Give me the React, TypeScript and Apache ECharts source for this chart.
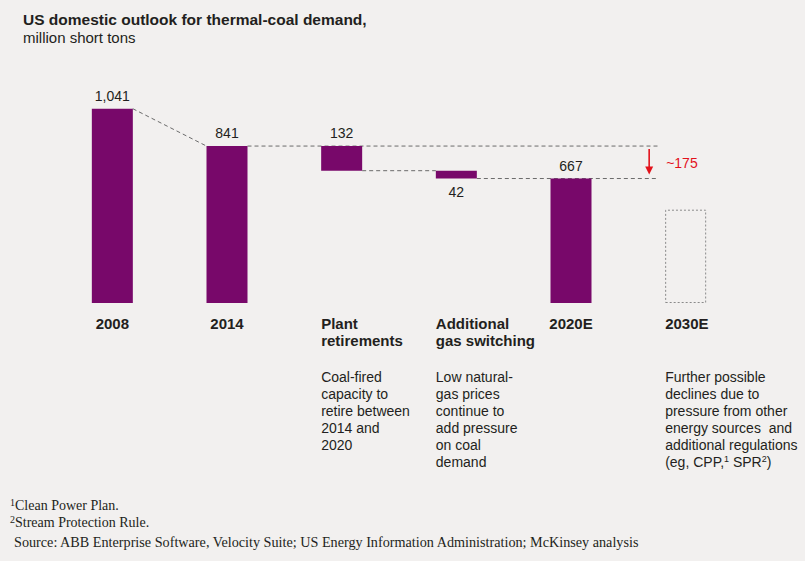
import React, { useEffect, useRef } from 'react';
import * as echarts from 'echarts';

// ---------- data ----------
const categories = ['2008', '2014', 'Plant retirements', 'Additional gas switching', '2020E', '2030E'];
const categoryLabelLines = [['2008'], ['2014'], ['Plant', 'retirements'], ['Additional', 'gas switching'], ['2020E'], ['2030E']];
const descriptions = [
  [],
  [],
  ['Coal-fired', 'capacity to', 'retire between', '2014 and', '2020'],
  ['Low natural-', 'gas prices', 'continue to', 'add pressure', 'on coal', 'demand'],
  [],
  ['Further possible', 'declines due to', 'pressure from other', 'energy sources  and', 'additional regulations', '(eg, CPP,¹ SPR²)'],
];
const barValues = [1041, 841, 132, 42, 667, null];
const barKinds = ['total', 'total', 'decrease', 'decrease', 'total', 'outlook'];
const outlook2030 = 500;
const decline2030Label = '~175';
const titleText = 'US domestic outlook for thermal-coal demand,';
const subtitleText = 'million short tons';
const footnotes = ['¹Clean Power Plan.', '²Stream Protection Rule.'];
const sourceText = 'Source: ABB Enterprise Software, Velocity Suite; US Energy Information Administration; McKinsey analysis';

// ---------- styles ----------
const PURPLE = '#78086a';
const RED = '#e3121b';
const TEXT = '#231f20';
const BG = '#f2f0ef';
const BAR_WIDTH = 41;
const SANS = 'Liberation Sans, Arial, Helvetica, sans-serif';
const SERIF = 'Liberation Serif, Times New Roman, serif';

const supify = (s: string, style: string) =>
  s
    .split(/([¹²])/)
    .filter((p) => p.length > 0)
    .map((p) => (p === '¹' ? '{sup|1}' : p === '²' ? '{sup|2}' : `{${style}|${p}}`))
    .join('');

export default function App() {
  const ref = useRef<HTMLDivElement>(null);

  useEffect(() => {
    if (!ref.current) return;
    const chart = echarts.init(ref.current, null, { renderer: 'svg' });

    // waterfall layout
    const base: any[] = [];
    const vals: any[] = [];
    const outlook: any[] = [];
    const levelsAfter: number[] = [];
    let level = 0;
    barValues.forEach((v, i) => {
      const kind = barKinds[i];
      let b = 0;
      if (kind === 'total') {
        vals.push({ value: v, label: { position: 'top' } });
        level = v as number;
        outlook.push('-');
      } else if (kind === 'decrease') {
        b = level - (v as number);
        vals.push({ value: v, label: { position: i === 2 ? 'top' : 'bottom' } });
        level = level - (v as number);
        outlook.push('-');
      } else {
        vals.push('-');
        outlook.push(outlook2030);
      }
      // category labels without a description are centred under the bar
      const centred = descriptions[i].length === 0 && categoryLabelLines[i].length === 1;
      base.push(centred ? { value: b, label: { align: 'center', offset: [0, 0] } } : b);
      levelsAfter.push(level);
    });

    // connectors: [fromIdx, value, toIdx, value, extendToEnd]
    const connectors = [
      [0, barValues[0], 1, barValues[1], 0],
      [1, levelsAfter[1], 5, levelsAfter[1], 1],
      [2, levelsAfter[2], 3, levelsAfter[2], 0],
      [3, levelsAfter[3], 5, levelsAfter[3], 1],
    ];

    const catLabel = (i: number) => {
      const lines = categoryLabelLines[i].map((l) => `{b|${l}}`);
      const desc = descriptions[i];
      if (desc.length > 0) {
        while (lines.length < 2) lines.push('{b| }');
        lines.push('{s| }');
        desc.forEach((d) => lines.push(supify(d, 'd')));
      }
      return lines.join('\n');
    };

    const option: any = {
      animation: false,
      backgroundColor: BG,
      title: {
        text: titleText,
        subtext: subtitleText,
        left: 18,
        top: 5,
        itemGap: 0,
        textStyle: { fontFamily: SANS, fontSize: 15.5, fontWeight: 'bold', color: TEXT, lineHeight: 18 },
        subtextStyle: { fontFamily: SANS, fontSize: 15, color: TEXT, lineHeight: 18 },
      },
      grid: { left: 55, right: 62, top: 60.4, bottom: 258, containLabel: false },
      xAxis: {
        type: 'category',
        data: categories,
        axisLine: { show: false },
        axisTick: { show: false },
        axisLabel: { show: false },
        splitLine: { show: false },
      },
      yAxis: {
        type: 'value',
        min: 0,
        max: 1300,
        show: false,
        splitLine: { show: false },
      },
      series: [
        {
          type: 'custom',
          name: 'connectors',
          silent: true,
          z: 1,
          data: connectors,
          encode: { x: [0, 2], y: [1, 3] },
          renderItem: (params: any, api: any) => {
            const p1 = api.coord([api.value(0), api.value(1)]);
            const p2 = api.coord([api.value(2), api.value(3)]);
            const half = BAR_WIDTH / 2;
            const x1 = p1[0] + half;
            const x2 = api.value(4) ? p2[0] - half - 7 : p2[0] - half;
            return {
              type: 'line',
              shape: { x1, y1: p1[1], x2, y2: p2[1] },
              style: { stroke: '#6b6b6b', lineWidth: 1, lineDash: [4, 3] },
            };
          },
        },
        {
          type: 'bar',
          name: 'base',
          stack: 'w',
          barWidth: BAR_WIDTH,
          silent: true,
          z: 2,
          itemStyle: { color: 'rgba(0,0,0,0)' },
          data: base,
          label: {
            show: true,
            position: 'bottom',
            distance: 11.5,
            align: 'left',
            verticalAlign: 'top',
            offset: [-BAR_WIDTH / 2, 0],
            formatter: (p: any) => catLabel(p.dataIndex),
            rich: {
              b: { fontFamily: SANS, fontSize: 15, fontWeight: 'bold', color: TEXT, lineHeight: 17 },
              s: { fontSize: 4, lineHeight: 21 },
              d: { fontFamily: SANS, fontSize: 14, color: TEXT, lineHeight: 17, verticalAlign: 'top' },
              sup: { fontFamily: SANS, fontSize: 9, color: TEXT, lineHeight: 11, verticalAlign: 'top' },
            },
          },
        },
        {
          type: 'bar',
          name: 'values',
          stack: 'w',
          barWidth: BAR_WIDTH,
          silent: true,
          z: 3,
          itemStyle: { color: PURPLE },
          data: vals,
          label: {
            show: true,
            distance: 6,
            fontFamily: SANS,
            fontSize: 14,
            color: TEXT,
            formatter: (p: any) => Number(p.value).toLocaleString('en-US'),
          },
        },
        {
          type: 'bar',
          name: 'outlook',
          stack: 'w',
          barWidth: BAR_WIDTH,
          silent: true,
          z: 3,
          itemStyle: { color: 'rgba(0,0,0,0)', borderColor: '#8a8a8a', borderWidth: 1, borderType: [2, 2] },
          data: outlook,
        },
        {
          type: 'custom',
          name: 'arrow',
          silent: true,
          z: 4,
          data: [[5, levelsAfter[1], levelsAfter[4]]],
          encode: { x: 0, y: [1, 2] },
          renderItem: (params: any, api: any) => {
            const top = api.coord([api.value(0), api.value(1)]);
            const bot = api.coord([api.value(0), api.value(2)]);
            const half = BAR_WIDTH / 2;
            const x = top[0] - half - 16;
            const y1 = top[1] + 3;
            const tip = bot[1] - 4;
            return {
              type: 'group',
              children: [
                { type: 'line', shape: { x1: x, y1, x2: x, y2: tip - 6 }, style: { stroke: RED, lineWidth: 1.6 } },
                { type: 'polygon', shape: { points: [[x - 4, tip - 8], [x + 4, tip - 8], [x, tip]] }, style: { fill: RED } },
                {
                  type: 'text',
                  style: {
                    text: decline2030Label,
                    x: top[0] - half + 1,
                    y: (top[1] + bot[1]) / 2 + 1,
                    fill: RED,
                    fontFamily: SANS,
                    fontSize: 14,
                    verticalAlign: 'middle',
                    align: 'left',
                  },
                },
              ],
            };
          },
        },
      ],
      graphic: [
        ...footnotes.map((f, i) => ({
          type: 'text',
          left: 10,
          top: 497 + i * 17,
          style: {
            text: supify(f, 'f'),
            rich: {
              f: { fontFamily: SERIF, fontSize: 14, fill: TEXT, lineHeight: 16 },
              sup: { fontFamily: SERIF, fontSize: 10, fill: TEXT, lineHeight: 12, verticalAlign: 'top' },
            },
          },
        })),
        {
          type: 'text',
          left: 14,
          top: 535,
          style: { text: sourceText, fontFamily: SERIF, fontSize: 14.2, fill: TEXT },
        },
      ],
    };

    chart.setOption(option);
    return () => chart.dispose();
  }, []);

  return (
    <div
      ref={ref}
      style={{ position: 'absolute', left: 0, top: 0, width: 805, height: 561, background: BG }}
    />
  );
}
